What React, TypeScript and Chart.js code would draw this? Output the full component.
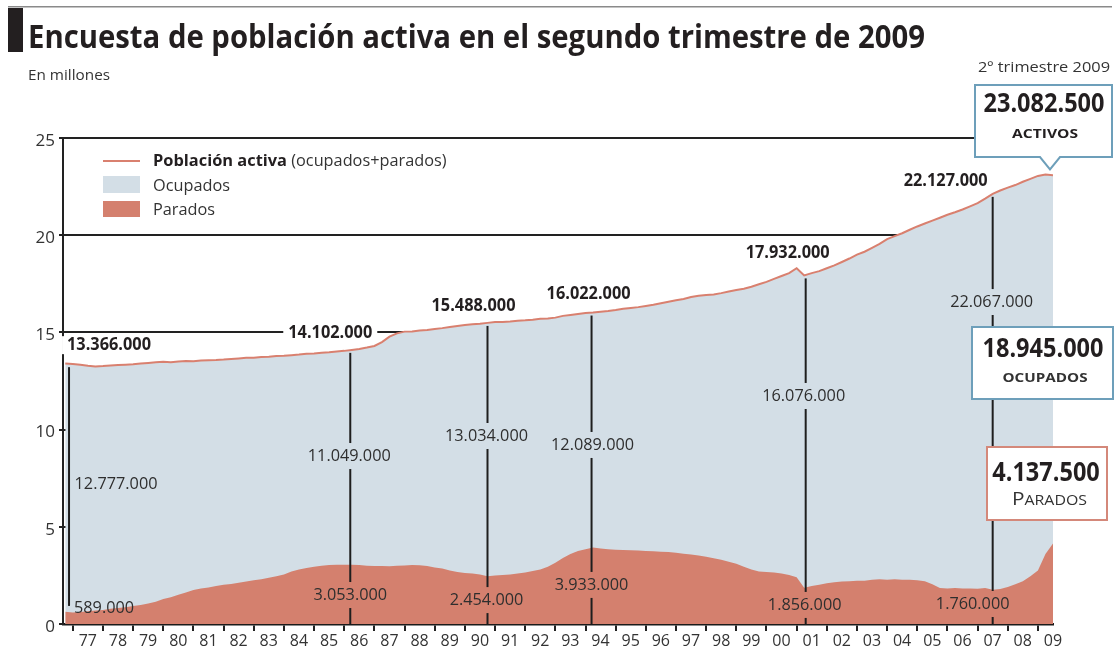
import React, { useEffect, useRef } from 'react';
import { Chart, registerables } from 'chart.js';

Chart.register(...registerables);

// ---------- DATA (millones de personas, EPA trimestral, 1976 T3 – 2009 T2) ----------
const FIRST_QUARTER_END = 1976.75; // end of 1976 T3
const activos: number[] = [
  13.40, 13.37,
  13.33, 13.28, 13.25, 13.27, // 1977
  13.30, 13.32, 13.34, 13.36, // 1978
  13.40, 13.43, 13.46, 13.49, // 1979
  13.47, 13.50, 13.53, 13.52, // 1980
  13.55, 13.57, 13.58, 13.60, // 1981
  13.63, 13.66, 13.69, 13.70, // 1982
  13.73, 13.75, 13.78, 13.80, // 1983
  13.83, 13.86, 13.90, 13.92, // 1984
  13.95, 13.98, 14.02, 14.05, // 1985
  14.10, 14.15, 14.22, 14.30, // 1986
  14.50, 14.78, 14.95, 15.04, // 1987
  15.05, 15.10, 15.12, 15.18, // 1988
  15.22, 15.28, 15.33, 15.38, // 1989
  15.42, 15.45, 15.49, 15.53, // 1990
  15.54, 15.56, 15.60, 15.62, // 1991
  15.65, 15.70, 15.72, 15.76, // 1992
  15.85, 15.90, 15.95, 16.00, // 1993
  16.02, 16.06, 16.10, 16.15, // 1994
  16.22, 16.26, 16.30, 16.36, // 1995
  16.42, 16.50, 16.58, 16.65, // 1996
  16.72, 16.82, 16.88, 16.92, // 1997
  16.95, 17.02, 17.10, 17.18, // 1998
  17.25, 17.35, 17.48, 17.60, // 1999
  17.75, 17.90, 18.05, 18.30, // 2000
  17.93, 18.05, 18.15, 18.30, // 2001
  18.45, 18.62, 18.80, 19.00, // 2002
  19.15, 19.35, 19.55, 19.80, // 2003
  19.95, 20.10, 20.28, 20.45, // 2004
  20.60, 20.75, 20.90, 21.05, // 2005
  21.18, 21.32, 21.48, 21.65, // 2006
  21.88, 22.13, 22.30, 22.45, // 2007
  22.58, 22.75, 22.90, 23.05, // 2008
  23.12, 23.08,               // 2009
];
const parados: number[] = [
  0.63, 0.59,
  0.62, 0.66, 0.69, 0.72, // 1977
  0.78, 0.82, 0.86, 0.92, // 1978
  0.98, 1.05, 1.15, 1.28, // 1979
  1.38, 1.50, 1.62, 1.75, // 1980
  1.82, 1.88, 1.95, 2.02, // 1981
  2.06, 2.12, 2.18, 2.25, // 1982
  2.30, 2.38, 2.45, 2.55, // 1983
  2.70, 2.80, 2.88, 2.95, // 1984
  3.00, 3.03, 3.05, 3.05, // 1985
  3.05, 3.03, 3.00, 2.98, // 1986
  2.98, 2.97, 3.00, 3.01, // 1987
  3.03, 3.02, 2.98, 2.90, // 1988
  2.85, 2.75, 2.68, 2.62, // 1989
  2.60, 2.55, 2.45, 2.50, // 1990
  2.52, 2.55, 2.60, 2.65, // 1991
  2.72, 2.80, 2.95, 3.15, // 1992
  3.40, 3.60, 3.75, 3.85, // 1993
  3.93, 3.88, 3.85, 3.82, // 1994
  3.81, 3.80, 3.78, 3.76, // 1995
  3.74, 3.72, 3.70, 3.66, // 1996
  3.62, 3.58, 3.52, 3.46, // 1997
  3.38, 3.30, 3.20, 3.10, // 1998
  2.95, 2.80, 2.70, 2.68, // 1999
  2.65, 2.60, 2.52, 2.40, // 2000
  1.86, 1.95, 2.02, 2.10, // 2001
  2.15, 2.18, 2.20, 2.22, // 2002
  2.22, 2.28, 2.30, 2.28, // 2003
  2.30, 2.28, 2.27, 2.25, // 2004
  2.20, 2.05, 1.85, 1.83, // 2005
  1.85, 1.82, 1.83, 1.81, // 2006
  1.85, 1.76, 1.80, 1.90, // 2007
  2.05, 2.20, 2.45, 2.75, // 2008
  3.60, 4.14,             // 2009
];
const yearTicks: number[] = [1977, 1978, 1979, 1980, 1981, 1982, 1983, 1984, 1985, 1986, 1987, 1988, 1989, 1990, 1991, 1992, 1993, 1994, 1995, 1996, 1997, 1998, 1999, 2000, 2001, 2002, 2003, 2004, 2005, 2006, 2007, 2008, 2009];
const yTickStep = 5;

// Annotated quarters
const annYears: number[] = [1976.875, 1986.2, 1990.75, 1994.2, 2001.3, 2007.5];
const annActivosVal: number[] = [13.366, 14.102, 15.488, 16.022, 17.932, 22.127];
const annActivos: string[] = ['13.366.000', '14.102.000', '15.488.000', '16.022.000', '17.932.000', '22.127.000'];
const annOcupados: string[] = ['12.777.000', '11.049.000', '13.034.000', '12.089.000', '16.076.000', '22.067.000'];
const annParados: string[] = ['589.000', '3.053.000', '2.454.000', '3.933.000', '1.856.000', '1.760.000'];

// Last quarter (2º trimestre 2009)
const lastActivos = '23.082.500';
const lastOcupados = '18.945.000';
const lastParados = '4.137.500';

// ---------- LAYOUT (annotation placement) ----------
const annLineBottom = [0.93, 0, 0, 0, 0, 0];
const actLabelDx = [40, -20, -14, -3, -18, -47];
const actLabelDy = [-19, -17, -17, -18, -22, -13];
const ocuLabelDx = [47, -1, -1, 1, -2, -1];
const ocuLabelY = [7.2, 8.64, 9.67, 9.21, 11.73, 16.56];
const parLabelDx = [35, 0, -1, 0, -1, -20];
const parLabelY = [0.82, 1.49, 1.23, 2.01, 0.98, 1.03];

const FF = "'Open Sans', 'DejaVu Sans', sans-serif";
const TXT = '#231f20';
const BLUE_FILL = '#d3dee6';
const RED_FILL = '#d4806e';
const RED_LINE = '#d9806f';
const BOX_BLUE = '#6d9fba';
const BOX_RED = '#d4887a';

function sxOf(ctx: CanvasRenderingContext2D, font: string, sample: string, width: number) {
  ctx.font = font;
  return width / ctx.measureText(sample).width;
}

function drawText(
  ctx: CanvasRenderingContext2D,
  text: string,
  x: number,
  y: number,
  font: string,
  sx: number,
  align: 'left' | 'center' | 'right',
  color: string,
  baseline: CanvasTextBaseline = 'middle'
) {
  ctx.save();
  ctx.font = font;
  ctx.fillStyle = color;
  ctx.textBaseline = baseline;
  ctx.textAlign = 'left';
  const w = ctx.measureText(text).width * sx;
  const x0 = align === 'center' ? x - w / 2 : align === 'right' ? x - w : x;
  ctx.translate(x0, y);
  ctx.scale(sx, 1);
  ctx.fillText(text, 0, 0);
  ctx.restore();
  return w;
}

const overlay = {
  id: 'overlay',
  afterDraw(chart: any) {
    const ctx: CanvasRenderingContext2D = chart.ctx;
    const xs = chart.scales.x;
    const ys = chart.scales.y;
    ctx.save();

    // ---- header ----
    ctx.fillStyle = '#8a8a8a';
    ctx.fillRect(8, 6, 1104, 1.5);
    ctx.fillStyle = TXT;
    ctx.fillRect(8, 8, 15, 44);
    const titleFont = `bold 32px ${FF}`;
    const title = 'Encuesta de población activa en el segundo trimestre de 2009';
    drawText(ctx, title, 28, 48, titleFont, sxOf(ctx, titleFont, title, 897), 'left', TXT, 'alphabetic');
    const subFont = `14px ${FF}`;
    drawText(ctx, 'En millones', 28, 76, subFont, sxOf(ctx, subFont, 'En millones', 82), 'left', '#333');

    // ---- legend ----
    const legB = `bold 16px ${FF}`;
    const legN = `16px ${FF}`;
    const legSx = sxOf(ctx, legN, 'Ocupados', 77);
    ctx.strokeStyle = RED_LINE;
    ctx.lineWidth = 2;
    ctx.beginPath();
    ctx.moveTo(103, 161);
    ctx.lineTo(140, 161);
    ctx.stroke();
    const wb = drawText(ctx, 'Población activa', 153, 161, legB, sxOf(ctx, legB, 'Población activa', 134), 'left', TXT);
    drawText(ctx, ' (ocupados+parados)', 153 + wb, 161, legN, legSx, 'left', '#333');
    ctx.fillStyle = BLUE_FILL;
    ctx.fillRect(103, 176, 37, 17);
    drawText(ctx, 'Ocupados', 153, 186, legN, legSx, 'left', '#333');
    ctx.fillStyle = RED_FILL;
    ctx.fillRect(103, 201, 37, 16);
    drawText(ctx, 'Parados', 153, 210, legN, legSx, 'left', '#333');

    // ---- annotation lines and labels ----
    const actFont = `bold 17px ${FF}`;
    const actSx = sxOf(ctx, actFont, '13.366.000', 84);
    const ocuFont = `17px ${FF}`;
    const ocuSx = sxOf(ctx, ocuFont, '12.777.000', 83);

    annYears.forEach((yr, i) => {
      const x = xs.getPixelForValue(yr);
      const top = ys.getPixelForValue(annActivosVal[i]) + 3;
      const bottom = ys.getPixelForValue(annLineBottom[i]);
      const gaps: [number, number][] = [];
      const labels = [
        { t: annOcupados[i], cx: x + ocuLabelDx[i], cy: ys.getPixelForValue(ocuLabelY[i]) },
        { t: annParados[i], cx: x + parLabelDx[i], cy: ys.getPixelForValue(parLabelY[i]) },
      ];
      ctx.font = ocuFont;
      labels.forEach((l) => {
        const w = ctx.measureText(l.t).width * ocuSx;
        if (Math.abs(l.cx - x) < w / 2 + 2) gaps.push([l.cy - 13, l.cy + 13]);
      });
      gaps.sort((a, b) => a[0] - b[0]);
      ctx.strokeStyle = '#1e1e1e';
      ctx.lineWidth = 2;
      let y0 = top;
      const segs: [number, number][] = [];
      gaps.forEach((g) => {
        if (g[0] > y0) segs.push([y0, Math.min(g[0], bottom)]);
        y0 = Math.max(y0, g[1]);
      });
      if (y0 < bottom) segs.push([y0, bottom]);
      segs.forEach((s) => {
        ctx.beginPath();
        ctx.moveTo(x, s[0]);
        ctx.lineTo(x, s[1]);
        ctx.stroke();
      });
      labels.forEach((l) => drawText(ctx, l.t, l.cx, l.cy, ocuFont, ocuSx, 'center', '#2e2e2e'));

      // activos label with white background
      const acx = x + actLabelDx[i];
      const acy = ys.getPixelForValue(annActivosVal[i]) + actLabelDy[i];
      ctx.font = actFont;
      const aw = ctx.measureText(annActivos[i]).width * actSx;
      ctx.fillStyle = '#ffffff';
      ctx.fillRect(acx - aw / 2 - 5, acy - 9, aw + 10, 18);
      drawText(ctx, annActivos[i], acx, acy, actFont, actSx, 'center', TXT);
    });

    // ---- callout boxes ----
    const bigFont = `bold 26px ${FF}`;
    const bigSx = sxOf(ctx, bigFont, '18.945.000', 121);
    const capFont = `bold 13px ${FF}`;
    const lastX = xs.getPixelForValue(FIRST_QUARTER_END + 0.25 * (activos.length - 1));
    const lastY = ys.getPixelForValue(activos[activos.length - 1]);

    const triFont = `15px ${FF}`;
    drawText(ctx, '2º trimestre 2009', 1044, 68, triFont, sxOf(ctx, triFont, '2º trimestre 2009', 132), 'center', '#333');

    // Activos box with pointer
    const bx = 975, by = 85, bw = 137, bh = 72;
    const px = lastX - 3, ptip = lastY - 6;
    ctx.fillStyle = '#fff';
    ctx.strokeStyle = BOX_BLUE;
    ctx.lineWidth = 2;
    ctx.beginPath();
    ctx.moveTo(bx, by);
    ctx.lineTo(bx + bw, by);
    ctx.lineTo(bx + bw, by + bh);
    ctx.lineTo(px + 10, by + bh);
    ctx.lineTo(px, ptip);
    ctx.lineTo(px - 10, by + bh);
    ctx.lineTo(bx, by + bh);
    ctx.closePath();
    ctx.fill();
    ctx.stroke();
    drawText(ctx, lastActivos, 1044, 105, bigFont, bigSx, 'center', TXT);
    drawText(ctx, 'ACTIVOS', 1045, 134, capFont, sxOf(ctx, capFont, 'ACTIVOS', 66), 'center', TXT);

    // Ocupados box
    ctx.fillStyle = '#fff';
    ctx.strokeStyle = BOX_BLUE;
    ctx.fillRect(972, 327, 141, 72);
    ctx.strokeRect(972, 327, 141, 72);
    drawText(ctx, lastOcupados, 1043, 350, bigFont, bigSx, 'center', TXT);
    drawText(ctx, 'OCUPADOS', 1045, 378, capFont, sxOf(ctx, capFont, 'OCUPADOS', 85), 'center', '#333');

    // Parados box
    ctx.fillStyle = '#fff';
    ctx.strokeStyle = BOX_RED;
    ctx.fillRect(987, 447, 120, 73);
    ctx.strokeRect(987, 447, 120, 73);
    drawText(ctx, lastParados, 1046, 474, bigFont, bigSx, 'center', TXT);
    // small caps "PARADOS"
    const pBig = `19px ${FF}`;
    const pSmall = `14.5px ${FF}`;
    ctx.font = pBig;
    const w1 = ctx.measureText('P').width;
    ctx.font = pSmall;
    const w2 = ctx.measureText('ARADOS').width;
    const psx = 75 / (w1 + w2);
    const startX = 1049.5 - 37.5;
    drawText(ctx, 'P', startX, 505, pBig, psx, 'left', '#333', 'alphabetic');
    drawText(ctx, 'ARADOS', startX + w1 * psx, 505, pSmall, psx, 'left', '#333', 'alphabetic');

    ctx.restore();
  },
};

export default function App() {
  const ref = useRef<HTMLCanvasElement | null>(null);

  useEffect(() => {
    if (!ref.current) return;
    const qx = (i: number) => FIRST_QUARTER_END + 0.25 * i;
    const chart = new Chart(ref.current, {
      type: 'line',
      data: {
        datasets: [
          {
            label: 'Parados',
            data: parados.map((v, i) => ({ x: qx(i), y: v })),
            borderWidth: 0,
            borderColor: RED_FILL,
            backgroundColor: RED_FILL,
            fill: 'origin',
            pointRadius: 0,
            order: 0,
          },
          {
            label: 'Población activa',
            data: activos.map((v, i) => ({ x: qx(i), y: v })),
            borderWidth: 2,
            borderColor: RED_LINE,
            backgroundColor: BLUE_FILL,
            fill: 'origin',
            pointRadius: 0,
            order: 1,
          },
        ],
      },
      options: {
        animation: false,
        responsive: false,
        maintainAspectRatio: false,
        layout: { padding: { top: 138, right: 67, left: 0, bottom: 0 } },
        plugins: {
          legend: { display: false },
          tooltip: { enabled: false },
          title: { display: false },
        },
        elements: { line: { tension: 0 }, point: { radius: 0 } },
        scales: {
          x: {
            type: 'linear',
            min: 1976.675,
            max: 2009.5,
            z: 1,
            afterBuildTicks: (scale: any) => {
              scale.ticks = yearTicks.map((v) => ({ value: v }));
            },
            afterFit: (scale: any) => {
              scale.height = 27;
            },
            grid: { drawOnChartArea: false, drawTicks: true, tickLength: 7, color: '#222', lineWidth: 2 },
            border: { display: true, color: '#1a1a1a', width: 2.5 },
            ticks: {
              autoSkip: false,
              maxRotation: 0,
              minRotation: 0,
              labelOffset: 15,
              padding: 1,
              color: '#333',
              font: { family: FF, size: 16 },
              callback: (v: any) => String(Math.round(Number(v)) % 100).padStart(2, '0'),
            },
          },
          y: {
            min: 0,
            max: 25,
            z: 1,
            afterFit: (scale: any) => {
              scale.width = 63;
            },
            grid: { color: '#222', lineWidth: 2, tickLength: 4, drawTicks: true },
            border: { display: true, color: '#222', width: 2 },
            ticks: {
              stepSize: yTickStep,
              padding: 4,
              labelOffset: 3,
              color: '#333',
              font: { family: FF, size: 17 },
            },
          },
        },
      } as any,
      plugins: [overlay],
    });
    return () => chart.destroy();
  }, []);

  return (
    <div style={{ position: 'absolute', left: 0, top: 0, width: 1120, height: 651, background: '#fff' }}>
      <canvas ref={ref} width={1120} height={651} style={{ display: 'block' }} />
    </div>
  );
}
